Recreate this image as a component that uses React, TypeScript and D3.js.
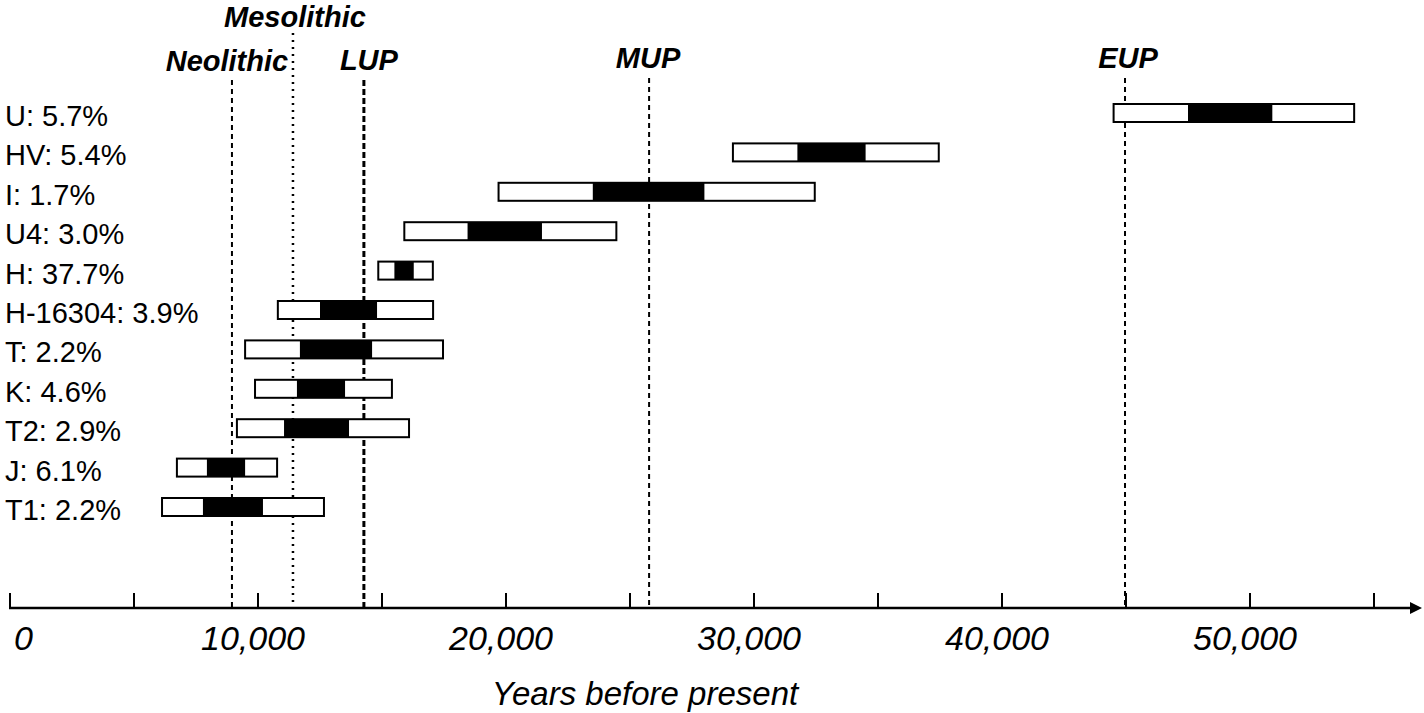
import React from "react";
import * as d3 from "d3";

const categories = ["U: 5.7%", "HV: 5.4%", "I: 1.7%", "U4: 3.0%", "H: 37.7%", "H-16304: 3.9%", "T: 2.2%", "K: 4.6%", "T2: 2.9%", "J: 6.1%", "T1: 2.2%"];
// outer range (white) low/high and inner range (black) low/high, years before present
const outerLow = [44500, 29150, 19700, 15900, 14850, 10800, 9480, 9880, 9150, 6730, 6130];
const innerLow = [47500, 31750, 23500, 18450, 15500, 12500, 11690, 11570, 11050, 7940, 7780];
const innerHigh = [50900, 34500, 28000, 21450, 16280, 14800, 14600, 13510, 13670, 9480, 10200];
const outerHigh = [54200, 37450, 32450, 24450, 17050, 17060, 17460, 15400, 16090, 10770, 12660];

const periods = ["Neolithic", "Mesolithic", "LUP", "MUP", "EUP"];
const periodYears = [8950, 11410, 14270, 25770, 44960];

const tickValues = [0, 5000, 10000, 15000, 20000, 25000, 30000, 35000, 40000, 45000, 50000, 55000];
const tickLabels = ["0", "10,000", "20,000", "30,000", "40,000", "50,000"];
const tickLabelValues = [0, 10000, 20000, 30000, 40000, 50000];
const axisTitle = "Years before present";

export default function App() {
  const W = 1424;
  const H = 713;
  const x = d3.scaleLinear().domain([0, 50000]).range([10, 1250]);
  const y = d3.scalePoint<string>().domain(categories).range([113, 507]);
  const axisY = 608;
  const barH = 18;
  const font = "'Liberation Sans', Arial, sans-serif";

  const periodStyle: Record<string, { dash: string; w: number; top: number; labelY: number; dx: number }> = {
    Neolithic: { dash: "5,4", w: 2, top: 80, labelY: 71, dx: -5 },
    Mesolithic: { dash: "2,5", w: 2.5, top: 33, labelY: 27, dx: 2 },
    LUP: { dash: "6,3", w: 3, top: 80, labelY: 70, dx: 5 },
    MUP: { dash: "5,4", w: 2, top: 78, labelY: 68, dx: -1 },
    EUP: { dash: "5,4", w: 2, top: 78, labelY: 68, dx: 3 },
  };

  return (
    <svg width={W} height={H} style={{ position: "absolute", left: 0, top: 0, background: "#fff" }}>
      {/* period lines */}
      {periods.map((p, i) => {
        const s = periodStyle[p];
        const px = x(periodYears[i]);
        return (
          <g key={p}>
            <line x1={px} x2={px} y1={s.top} y2={axisY} stroke="#000" strokeWidth={s.w} strokeDasharray={s.dash} />
            <text x={px + s.dx} y={s.labelY} textAnchor="middle" fontFamily={font} fontWeight="bold" fontStyle="italic" fontSize={29}>
              {p}
            </text>
          </g>
        );
      })}
      {/* bars */}
      {categories.map((c, i) => {
        const cy = y(c)!;
        return (
          <g key={c}>
            <text x={5} y={cy + 13} fontFamily={font} fontSize={29}>{c}</text>
            <rect x={x(outerLow[i])} y={cy - barH / 2} width={x(outerHigh[i]) - x(outerLow[i])} height={barH} fill="#fff" stroke="#000" strokeWidth={2} />
            <rect x={x(innerLow[i])} y={cy - barH / 2} width={x(innerHigh[i]) - x(innerLow[i])} height={barH} fill="#000" />
          </g>
        );
      })}
      {/* axis */}
      <line x1={9} x2={1410} y1={axisY} y2={axisY} stroke="#000" strokeWidth={2.5} />
      <path d={`M1410,${axisY - 6} L1422,${axisY} L1410,${axisY + 6} Z`} fill="#000" />
      {tickValues.map((t) => (
        <line key={t} x1={x(t)} x2={x(t)} y1={axisY - 15} y2={axisY} stroke="#000" strokeWidth={2} />
      ))}
      {tickLabelValues.map((t, i) => (
        <text key={t} x={t === 0 ? 14 : x(t) - 5} y={650} textAnchor={t === 0 ? "start" : "middle"} fontFamily={font} fontStyle="italic" fontSize={34}>
          {tickLabels[i]}
        </text>
      ))}
      <text x={645} y={705} textAnchor="middle" fontFamily={font} fontStyle="italic" fontSize={33}>{axisTitle}</text>
    </svg>
  );
}
